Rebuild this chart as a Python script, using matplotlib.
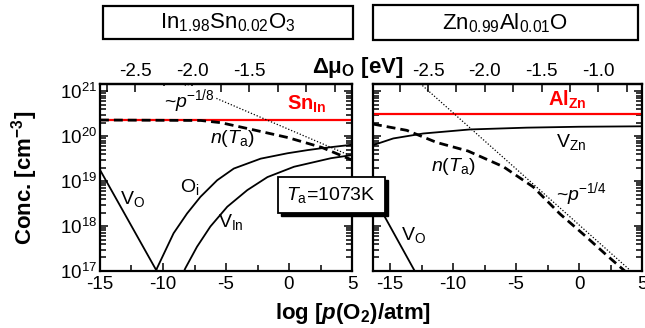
import numpy as np
import matplotlib
matplotlib.use("Agg")
import matplotlib.pyplot as plt
from matplotlib.patches import Rectangle
from matplotlib.ticker import MultipleLocator, FixedLocator, NullFormatter, LogLocator

plt.rcParams['font.family'] = ['Liberation Sans', 'DejaVu Sans']
plt.rcParams['mathtext.fontset'] = 'custom'
plt.rcParams['mathtext.rm'] = 'Liberation Sans'
plt.rcParams['mathtext.it'] = 'Liberation Sans:italic'
plt.rcParams['mathtext.bf'] = 'Liberation Sans:bold'
plt.rcParams['mathtext.bfit'] = 'Liberation Sans:italic:bold'
plt.rcParams['axes.unicode_minus'] = False

# ---- data (log10 of p(O2)/atm  vs  log10 of concentration in cm^-3) ----
# In1.98Sn0.02O3
sn_in_log = 20.36
vo_L_p = [-15.0, -10.3]
vo_L_c = [19.25, 16.90]
oi_L_p = [-10.6, -10.48, -9.16, -8.09, -7.03, -5.70, -4.38, -2.25, -0.12, 1.47, 2.53, 5.0]
oi_L_c = [16.95, 17.06, 17.84, 18.28, 18.65, 19.02, 19.28, 19.50, 19.62, 19.69, 19.73, 19.81]
vin_L_p = [-8.4, -8.23, -7.30, -6.24, -4.90, -3.31, -1.71, 0.40, 3.33, 5.0]
vin_L_c = [16.95, 17.06, 17.54, 17.99, 18.43, 18.80, 19.09, 19.32, 19.51, 19.58]
n_L_p = [-15.0, -7.0, -5.4, -2.8, -0.1, 2.6, 5.0]
n_L_c = [20.36, 20.35, 20.30, 20.14, 19.97, 19.75, 19.47]
dot_L_p = [-8.5, 5.0]
dot_L_c = [21.17, 19.55]

# Zn0.99Al0.01O
al_zn_log = 20.49
vzn_R_p = [-16.35, -14.74, -12.36, -8.65, -4.15, 0.0, 5.0]
vzn_R_c = [19.80, 19.95, 20.06, 20.15, 20.19, 20.21, 20.22]
n_R_p = [-16.35, -13.67, -11.29, -8.81, -6.0, -3.63, -1.51, 0.5, 2.2, 3.8, 5.0]
n_R_c = [20.27, 20.13, 19.86, 19.67, 19.32, 18.87, 18.27, 17.78, 17.35, 16.96, 16.66]
vo_R_p = [-16.35, -13.0]
vo_R_c = [18.68, 16.98]
dot_R_p = [-12.8, 5.0]
dot_R_c = [21.22, 16.78]

# top axis: delta mu_O [eV] = mu0 + slope*(log p - p0)
muL = (-2.5, 0.1106, -12.21)
muR = (-2.5, 0.1110, -11.98)

fig = plt.figure(figsize=(6.45, 3.28), dpi=100)
W, H = 645.0, 328.0
axL = fig.add_axes([100 / W, 1 - 271 / H, 252 / W, 187 / H])
axR = fig.add_axes([373 / W, 1 - 271 / H, 269 / W, 187 / H])

def p10(v):
    return 10 ** np.array(v)

dash = (0, (3.2, 1.8))

axL.axhline(10 ** sn_in_log, color='red', lw=1.6, zorder=2)
axL.plot(vo_L_p, p10(vo_L_c), 'k-', lw=1.3)
axL.plot(oi_L_p, p10(oi_L_c), 'k-', lw=1.3)
axL.plot(vin_L_p, p10(vin_L_c), 'k-', lw=1.3)
axL.plot(n_L_p, p10(n_L_c), color='k', ls=dash, lw=2.0, zorder=3)
axL.plot(dot_L_p, p10(dot_L_c), color='k', ls=(0, (1, 1.5)), lw=0.9)

axR.axhline(10 ** al_zn_log, color='red', lw=1.6, zorder=2)
axR.plot(vzn_R_p, p10(vzn_R_c), 'k-', lw=1.3)
axR.plot(vo_R_p, p10(vo_R_c), 'k-', lw=1.3)
axR.plot(n_R_p, p10(n_R_c), color='k', ls=dash, lw=2.0, zorder=3)
axR.plot(dot_R_p, p10(dot_R_c), color='k', ls=(0, (1, 1.5)), lw=0.9)

axL.set_xlim(-15, 5)
axR.set_xlim(-16.35, 5)

for ax in (axL, axR):
    ax.set_yscale('log')
    ax.set_ylim(1e17, 1.45e21)
    ax.yaxis.set_major_locator(LogLocator(base=10, numticks=10))
    ax.yaxis.set_minor_locator(LogLocator(base=10, subs=np.arange(2, 10), numticks=10))
    ax.yaxis.set_minor_formatter(NullFormatter())
    ax.xaxis.set_major_locator(MultipleLocator(5))
    ax.xaxis.set_minor_locator(MultipleLocator(2.5))
    ax.tick_params(which='both', direction='in', top=False, right=True,
                   labelsize=13.5, width=1.1)
    ax.tick_params(which='major', length=6)
    ax.tick_params(which='minor', length=4)
    ax.tick_params(axis='y', pad=2)
    for s in ax.spines.values():
        s.set_linewidth(1.6)
axR.tick_params(labelleft=False)

def add_top(ax, mu, majors, lo, hi):
    m0, k, p0 = mu
    sec = ax.secondary_xaxis('top', functions=(lambda x: m0 + k * (x - p0),
                                               lambda m: p0 + (m - m0) / k))
    sec.xaxis.set_major_locator(FixedLocator(majors))
    sec.xaxis.set_minor_locator(FixedLocator(np.arange(lo, hi, 0.25)))
    sec.set_xticklabels(['%.1f' % v for v in majors])
    sec.tick_params(which='both', direction='in', labelsize=13.5, width=1.1, pad=3)
    sec.tick_params(which='major', length=6)
    sec.tick_params(which='minor', length=6)
    sec.spines['top'].set_linewidth(1.6)
    return sec

add_top(axL, muL, [-2.5, -2.0, -1.5], -3.0, -0.4)
add_top(axR, muR, [-2.5, -2.0, -1.5, -1.0], -3.0, -0.4)

# labels inside panels
fs = 14
axL.text(-7.9, 10 ** 20.78, r'~$p$$^{-1/8}$', fontsize=14, ha='center', va='center',
         bbox=dict(facecolor='white', edgecolor='none', pad=0.5))
axL.text(1.4, 10 ** 20.70, r'Sn$_\mathbf{In}$', color='red', fontsize=14.5,
         fontweight='bold', ha='center', va='center')
axL.text(-4.5, 10 ** 19.95, r'$n$($T_\mathrm{a}$)', fontsize=fs, ha='center', va='center')
axL.text(-7.9, 10 ** 18.88, r'O$_\mathrm{i}$', fontsize=fs, ha='center', va='center')
axL.text(-12.4, 10 ** 18.60, r'V$_\mathrm{O}$', fontsize=fs, ha='center', va='center')
axL.text(-4.6, 10 ** 18.08, r'V$_\mathrm{In}$', fontsize=fs, ha='center', va='center')

axR.text(-0.9, 10 ** 20.80, r'Al$_\mathbf{Zn}$', color='red', fontsize=14.5,
         fontweight='bold', ha='center', va='center')
axR.text(-0.6, 10 ** 19.87, r'V$_\mathrm{Zn}$', fontsize=fs, ha='center', va='center')
axR.text(-10.0, 10 ** 19.33, r'$n$($T_\mathrm{a}$)', fontsize=fs, ha='center', va='center')
axR.text(0.2, 10 ** 18.72, r'~$p$$^{-1/4}$', fontsize=14, ha='center', va='center')
axR.text(-13.1, 10 ** 17.80, r'V$_\mathrm{O}$', fontsize=fs, ha='center', va='center')

# axis labels
fig.text(25 / W, 1 - 178 / H, r'Conc. [cm$^\mathbf{-3}$]', rotation=90, fontsize=16,
         fontweight='bold', ha='center', va='center')
fig.text(353 / W, 1 - 313 / H, r'log [$\mathbfit{p}$(O$_\mathbf{2}$)/atm]', fontsize=16,
         fontweight='bold', ha='center', va='center')
fig.text(358 / W, 1 - 68 / H, r'Δμ$_\mathbf{O}$ [eV]', fontsize=16,
         fontweight='bold', ha='center', va='center')

# title boxes
fig.patches.append(Rectangle((103 / W, 1 - 39 / H), 250 / W, 33 / H, transform=fig.transFigure,
                             facecolor='white', edgecolor='black', lw=1.6))
fig.patches.append(Rectangle((373 / W, 1 - 40 / H), 265 / W, 35 / H, transform=fig.transFigure,
                             facecolor='white', edgecolor='black', lw=1.6))
fig.text(228 / W, 1 - 23 / H, r'In$_\mathrm{1.98}$Sn$_\mathrm{0.02}$O$_\mathrm{3}$',
         fontsize=16, ha='center', va='center')
fig.text(505 / W, 1 - 23 / H, r'Zn$_\mathrm{0.99}$Al$_\mathrm{0.01}$O',
         fontsize=16, ha='center', va='center')

# annealing temperature box with shadow
bx, by, bw, bh = 278 / W, 1 - 213 / H, 107 / W, 36 / H
fig.patches.append(Rectangle((bx + 3 / W, by - 3 / H), bw, bh, transform=fig.transFigure,
                             facecolor='black', edgecolor='black', lw=1, zorder=5))
fig.patches.append(Rectangle((bx, by), bw, bh, transform=fig.transFigure,
                             facecolor='white', edgecolor='black', lw=1.3, zorder=6))
fig.text(331 / W, 1 - 195 / H, r'$T_\mathrm{a}$=1073K', fontsize=14,
         ha='center', va='center', zorder=7)

fig.savefig('out.png', dpi=100)
